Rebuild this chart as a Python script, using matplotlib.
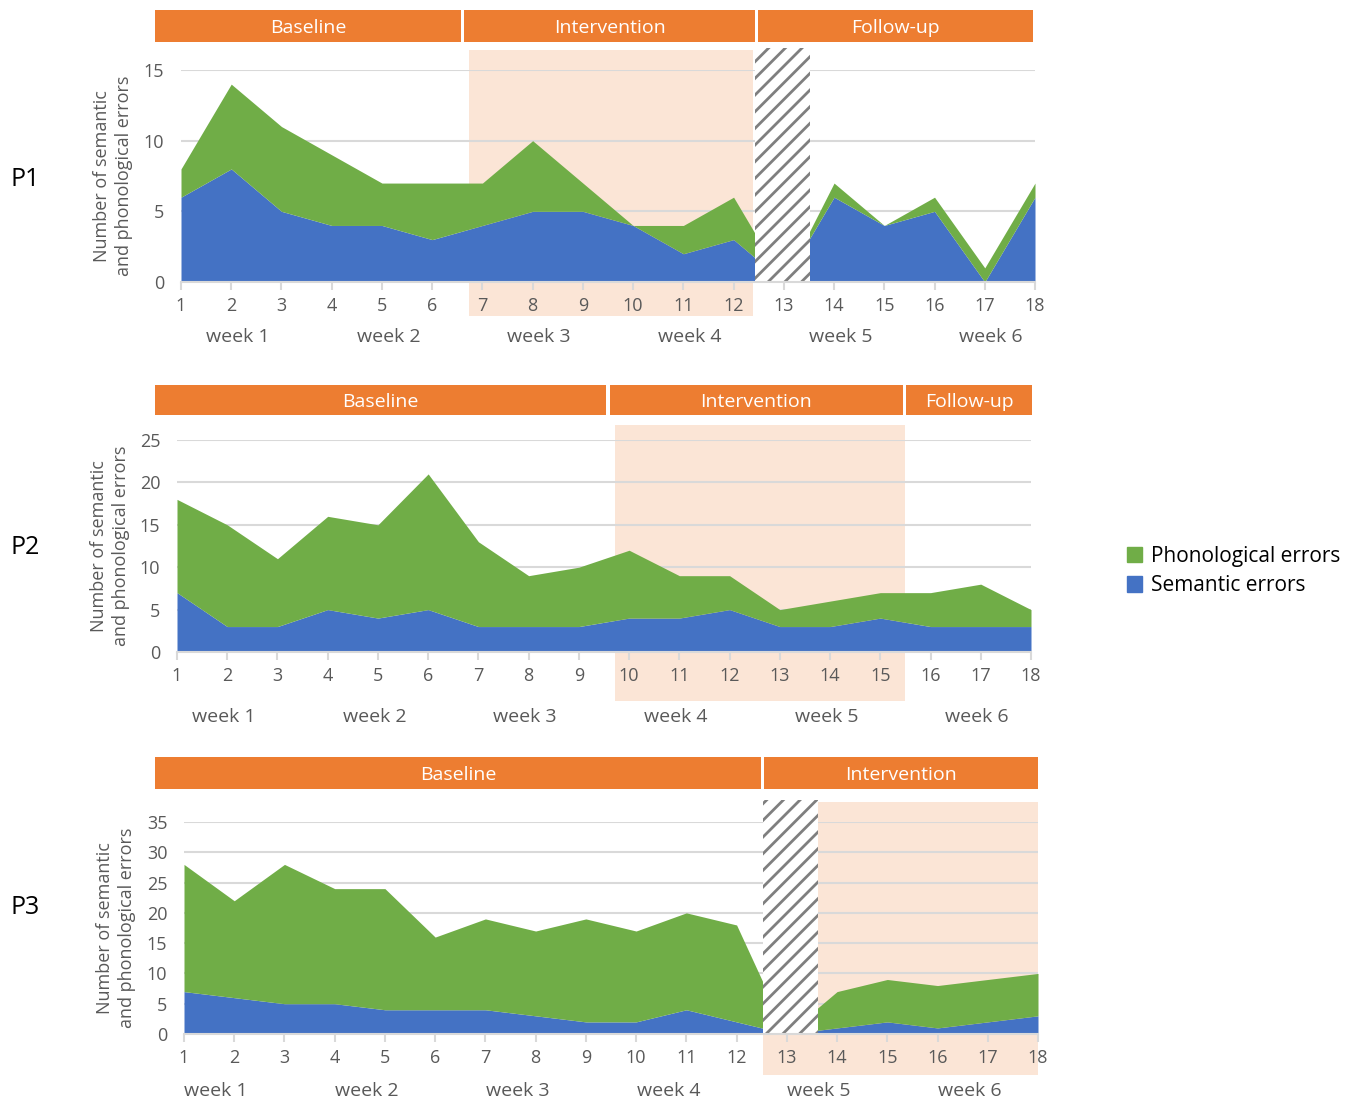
import numpy as np
import matplotlib
matplotlib.use("Agg")
import matplotlib.pyplot as plt
from matplotlib.patches import Rectangle, Patch
import matplotlib.transforms as mtransforms

plt.rcParams['font.family'] = ['Open Sans', 'DejaVu Sans']
plt.rcParams['hatch.linewidth'] = 2.0
plt.rcParams['hatch.color'] = '#7F7F7F'

sessions = np.arange(1, 19)
weeks = ['week 1', 'week 2', 'week 3', 'week 4', 'week 5', 'week 6']

# semantic errors and total (semantic + phonological) per session
p1_sem = [6, 8, 5, 4, 4, 3, 4, 5, 5, 4, 2, 3, 0, 6, 4, 5, 0, 6]
p1_tot = [8, 14, 11, 9, 7, 7, 7, 10, 7, 4, 4, 6, 0, 7, 4, 6, 1, 7]
p2_sem = [7, 3, 3, 5, 4, 5, 3, 3, 3, 4, 4, 5, 3, 3, 4, 3, 3, 3]
p2_tot = [18, 15, 11, 16, 15, 21, 13, 9, 10, 12, 9, 9, 5, 6, 7, 7, 8, 5]
p3_sem = [7, 6, 5, 5, 4, 4, 4, 3, 2, 2, 4, 2, 0, 1, 2, 1, 2, 3]
p3_tot = [28, 22, 28, 24, 24, 16, 19, 17, 19, 17, 20, 18, 0, 7, 9, 8, 9, 10]

BLUE = '#4472C4'
GREEN = '#70AD47'
ORANGE = '#ED7D31'
SHADE = '#FBE5D6'
GRAY = '#595959'
GRID = '#D9D9D9'

W, H = 1362, 1102
fig = plt.figure(figsize=(W / 100, H / 100), dpi=100)

panels = [
    dict(name='P1', sem=p1_sem, tot=p1_tot, ymax=15, left=181, axis_y=282,
         phases=[('Baseline', 0.48, 6.57), ('Intervention', 6.63, 12.43), ('Follow-up', 12.49, 17.96)],
         head=(1.132, 1.283), shade=(6.73, 12.39, -0.16, 1.094), hatch=(12.43, 13.52),
         week_x=2.13, week_off=55, name_y=180, ylab_x=-0.0796),
    dict(name='P2', sem=p2_sem, tot=p2_tot, ymax=25, left=177, axis_y=652,
         phases=[('Baseline', 0.56, 9.54), ('Intervention', 9.62, 15.45), ('Follow-up', 15.51, 18.02)],
         head=(1.118, 1.259), shade=(9.72, 15.49, -0.231, 1.071), hatch=None,
         week_x=1.93, week_off=65, name_y=547, ylab_x=-0.0785),
    dict(name='P3', sem=p3_sem, tot=p3_tot, ymax=35, left=184, axis_y=1034,
         phases=[('Baseline', 0.42, 12.49), ('Intervention', 12.55, 18.0)],
         head=(1.156, 1.307), shade=(12.53, 18.0, -0.193, 1.094), hatch=(12.53, 13.62),
         week_x=1.64, week_off=57, name_y=907, ylab_x=-0.0796),
]

for p in panels:
    ax = fig.add_axes([p['left'] / W, 1 - p['axis_y'] / H, 854 / W, 212 / H])
    ax.set_xlim(1, 18)
    ax.set_ylim(0, p['ymax'])
    tr = mtransforms.blended_transform_factory(ax.transData, ax.transAxes)

    # phase shading
    x0, x1, yb, yt = p['shade']
    ax.add_patch(Rectangle((x0, yb), x1 - x0, yt - yb, transform=tr, facecolor=SHADE,
                           edgecolor='none', clip_on=False, zorder=0))

    for y in range(5, p['ymax'] + 1, 5):
        ax.axhline(y, color=GRID, lw=1.5, zorder=1)

    ax.fill_between(sessions, 0, p['sem'], color=BLUE, lw=0, zorder=2)
    ax.fill_between(sessions, p['sem'], p['tot'], color=GREEN, lw=0, zorder=2)

    if p['hatch']:
        h0, h1 = p['hatch']
        ax.add_patch(Rectangle((h0, 0), h1 - h0, 1.104, transform=tr, facecolor='white',
                               edgecolor='#7F7F7F', hatch='//', lw=0, clip_on=False, zorder=3))

    # phase header bars
    hb, ht = p['head']
    for label, a, b in p['phases']:
        ax.add_patch(Rectangle((a, hb), b - a, ht - hb, transform=tr, facecolor=ORANGE,
                               edgecolor='none', clip_on=False, zorder=4))
        ax.text((a + b) / 2, (hb + ht) / 2 - 2 / 212, label, transform=tr, color='white',
                ha='center', va='center', fontsize=14, zorder=6)

    for s in ['top', 'right', 'left']:
        ax.spines[s].set_visible(False)
    ax.spines['bottom'].set_color(GRID)
    ax.spines['bottom'].set_linewidth(1.5)
    ax.spines['bottom'].set_zorder(5)
    ax.set_xticks(sessions)
    ax.tick_params(axis='x', colors=GRID, length=6, width=1.5, labelcolor=GRAY,
                   labelsize=13, pad=5)
    ax.set_yticks(range(0, p['ymax'] + 1, 5))
    ax.tick_params(axis='y', length=0, labelcolor=GRAY, labelsize=13, pad=12)

    # week labels
    off = -p['week_off'] / 212
    for i, w in enumerate(weeks):
        ax.text(p['week_x'] + 3 * i, off, w, transform=tr, ha='center', va='center',
                color=GRAY, fontsize=14)

    ax.text(p['ylab_x'], 0.5, 'Number of semantic\nand phonological errors',
            transform=ax.transAxes, rotation=90, ha='center', va='center',
            color=GRAY, fontsize=13, linespacing=1.3)

    fig.text(25 / W, 1 - p['name_y'] / H, p['name'], ha='center', va='center',
             fontsize=18, color='black')

handles = [Patch(color=GREEN), Patch(color=BLUE)]
fig.legend(handles, ['Phonological errors', 'Semantic errors'], loc='center left',
           bbox_to_anchor=(1108 / W, 1 - 571 / H), frameon=False, fontsize=15,
           handlelength=0.75, handleheight=0.75, handletextpad=0.4, labelspacing=0.4)

fig.savefig('out.png', dpi=100)
